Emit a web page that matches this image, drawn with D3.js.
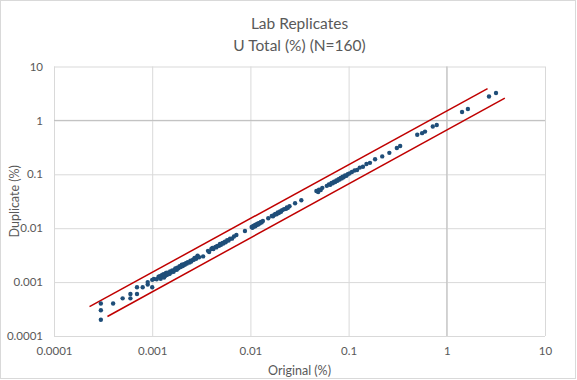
<!DOCTYPE html>
<html>
<head>
<meta charset="utf-8">
<script src="https://cdn.jsdelivr.net/npm/d3@7"></script>
<style>
  html, body { margin: 0; padding: 0; background: #fff; }
  svg { display: block; }
  text { font-family: Lato, "Open Sans", sans-serif; fill: #595959; }
</style>
</head>
<body>
<svg id="chart" width="577" height="380"></svg>
<script>
// ---- Data ----
const titleLines = ["Lab Replicates", "U Total (%) (N=160)"];
const xAxisTitle = "Original (%)";
const yAxisTitle = "Duplicate (%)";

const tickValues = [0.0001, 0.001, 0.01, 0.1, 1, 10];
const tickLabels = ["0.0001", "0.001", "0.01", "0.1", "1", "10"];

const original = [
  0.0003,0.0003,0.0003,0.0004,0.0005,0.0006,0.0006,0.0007,0.0007,0.0008,0.0009,0.0009,0.001,0.001,0.00104,0.00111,0.00116,
  0.0012,0.00122,0.00125,0.00128,0.0013,0.00132,0.00135,0.00138,0.0014,0.00142,0.00145,0.0015,0.00152,0.00155,0.0016,0.00165,0.0017,0.00172,0.00178,0.0018,0.00185,0.0019,0.00195,0.002,0.00205,0.0021,0.00215,0.0022,0.00225,0.0023,0.0024,0.00245,0.0025,0.0026,0.00265,0.0027,0.0028,0.00285,0.0029,0.003,
  0.0033,
  0.0037,0.0038,0.004,0.0041,0.0042,0.0044,0.0045,0.0046,0.0048,0.0049,0.005,0.0052,0.0053,0.0055,0.0056,0.0058,0.006,0.0062,0.0065,0.0068,
  0.0072,0.0088,
  0.0103,0.0105,0.0107,0.0108,0.011,0.0112,0.0113,0.0115,0.0117,0.0118,0.012,0.0122,0.0124,0.0126,0.0128,0.013,0.0134,
  0.0152,
  0.0165,0.017,0.0175,0.018,0.0185,0.019,0.0195,0.02,0.0205,0.021,0.022,0.023,0.0235,0.024,0.025,
  0.0285,0.033,
  0.047,0.049,0.05,0.052,0.054,0.06,0.063,0.065,0.067,0.069,0.071,0.073,0.075,0.077,0.079,0.081,0.083,0.085,0.087,0.089,0.092,0.095,0.098,0.102,
  0.108,0.115,0.122,0.13,0.14,0.152,0.165,0.186,0.22,0.26,0.31,0.335,
  0.5,0.56,0.6,0.72,0.79,1.43,1.64,2.69,3.17
];
const duplicate = [
  0.0004,0.0003,0.0002,0.0004,0.0005,0.0005,0.0006,0.0006,0.0008,0.0008,0.0009,0.001,0.0008,0.0011,0.00114,0.00113,0.00126,
  0.00128,0.00115,0.00135,0.00125,0.0014,0.00122,0.0013,0.00148,0.00135,0.0015,0.0014,0.00142,0.00158,0.0015,0.00165,0.00155,0.00168,0.0018,0.0017,0.00185,0.0018,0.00198,0.0019,0.0021,0.00198,0.00215,0.0021,0.00225,0.0022,0.00235,0.0023,0.0025,0.0024,0.0026,0.0026,0.0028,0.0027,0.0029,0.0031,0.0029,
  0.0030,
  0.0038,0.0036,0.0041,0.0043,0.0041,0.0045,0.0044,0.0047,0.0047,0.0051,0.0049,0.0053,0.0052,0.0056,0.0055,0.006,0.0059,0.0064,0.0064,0.007,
  0.0075,0.0089,
  0.0105,0.0102,0.011,0.0106,0.0112,0.0109,0.0116,0.0113,0.0118,0.0121,0.0117,0.0124,0.0122,0.0127,0.0131,0.0128,0.0136,
  0.0153,
  0.0168,0.0166,0.0178,0.0184,0.0181,0.0195,0.0192,0.0205,0.0202,0.0216,0.0225,0.0228,0.0242,0.0238,0.0255,
  0.029,0.033,
  0.049,0.047,0.052,0.051,0.056,0.061,0.065,0.064,0.069,0.068,0.073,0.072,0.077,0.076,0.081,0.08,0.086,0.084,0.09,0.088,0.095,0.094,0.1,0.104,
  0.11,0.118,0.12,0.133,0.138,0.155,0.163,0.19,0.215,0.25,0.307,0.335,
  0.54,0.58,0.62,0.77,0.82,1.43,1.63,2.77,3.22
];

// Bounding lines (±50%)
const upperLine = [[0.00023, 0.00035], [2.6, 3.9]];
const lowerLine = [[0.00035, 0.00023], [3.9, 2.6]];

// ---- Layout ----
const svg = d3.select("#chart");
const W = 577, H = 380;
const plot = { left: 54, right: 545, top: 66.5, bottom: 336 };

svg.append("rect")
  .attr("x", 0.5).attr("y", 0.5).attr("width", W - 2).attr("height", H - 2)
  .attr("fill", "#fff").attr("stroke", "#d9d9d9");

const x = d3.scaleLog().domain([0.0001, 10]).range([plot.left, plot.right]);
const y = d3.scaleLog().domain([0.0001, 10]).range([plot.bottom, plot.top]);

// Gridlines
const grid = svg.append("g");
grid.append("g")
  .attr("transform", `translate(0,${plot.bottom})`)
  .call(d3.axisBottom(x).tickValues(tickValues).tickFormat("").tickSize(-(plot.bottom - plot.top)).tickSizeOuter(0))
  .call(g => g.select(".domain").remove())
  .call(g => g.selectAll("line").attr("stroke", "#d9d9d9"));
grid.append("g")
  .attr("transform", `translate(${plot.left},0)`)
  .call(d3.axisLeft(y).tickValues(tickValues).tickFormat("").tickSize(-(plot.right - plot.left)).tickSizeOuter(0))
  .call(g => g.select(".domain").remove())
  .call(g => g.selectAll("line").attr("stroke", "#d9d9d9"));

// Axis lines crossing at 1
svg.append("line")
  .attr("x1", x(1)).attr("x2", x(1)).attr("y1", plot.top).attr("y2", plot.bottom)
  .attr("stroke", "#bfbfbf");
svg.append("line")
  .attr("x1", plot.left).attr("x2", plot.right).attr("y1", y(1)).attr("y2", y(1))
  .attr("stroke", "#bfbfbf");

// Tick labels
const xAxis = svg.append("g")
  .attr("transform", `translate(0,${plot.bottom})`)
  .call(d3.axisBottom(x).tickValues(tickValues).tickFormat((d, i) => tickLabels[i]).tickSize(0).tickPadding(11))
  .call(g => g.select(".domain").remove());
xAxis.selectAll("text").attr("font-size", "11.5px").attr("fill", "#595959")
  .style("font-family", "Lato, sans-serif");

const yAxis = svg.append("g")
  .attr("transform", `translate(${plot.left},0)`)
  .call(d3.axisLeft(y).tickValues(tickValues).tickFormat((d, i) => tickLabels[i]).tickSize(0).tickPadding(11))
  .call(g => g.select(".domain").remove());
yAxis.selectAll("text").attr("font-size", "11.5px").attr("fill", "#595959")
  .style("font-family", "Lato, sans-serif");

// Red bounding lines
const lineGen = d3.line().x(d => x(d[0])).y(d => y(d[1]));
[upperLine, lowerLine].forEach(l => {
  svg.append("path").attr("d", lineGen(l))
    .attr("fill", "none").attr("stroke", "#c00000").attr("stroke-width", 1.5);
});

// Points
const pts = original.map((o, i) => ({ o, d: duplicate[i] }));
svg.append("g").selectAll("circle").data(pts).join("circle")
  .attr("cx", p => x(p.o)).attr("cy", p => y(p.d)).attr("r", 2.2)
  .attr("fill", "#1f4e79");

// Titles
svg.append("text").attr("x", 299.5).attr("y", 29).attr("text-anchor", "middle")
  .attr("font-size", "15.5px").text(titleLines[0]);
svg.append("text").attr("x", 299.5).attr("y", 51).attr("text-anchor", "middle")
  .attr("font-size", "15.5px").text(titleLines[1]);

svg.append("text").attr("x", 299.5).attr("y", 375).attr("text-anchor", "middle")
  .attr("font-size", "12.5px").text(xAxisTitle);
svg.append("text")
  .attr("transform", `translate(19,${(plot.top + plot.bottom) / 2}) rotate(-90)`)
  .attr("text-anchor", "middle").attr("font-size", "12.5px").text(yAxisTitle);
</script>
</body>
</html>
